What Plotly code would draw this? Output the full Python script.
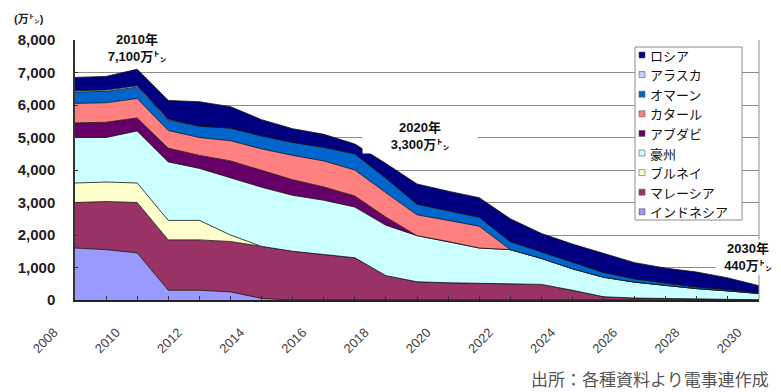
import plotly.graph_objects as go

years = list(range(2008, 2031))
names = ["インドネシア", "マレーシア", "ブルネイ", "豪州", "アブダビ", "カタール", "オマーン", "アラスカ", "ロシア"]
colors = ["#9999FF", "#993366", "#FFFFCC", "#CCFFFF", "#660066", "#FF8080", "#0066CC", "#CCCCFF", "#000080"]

indonesia = [1600, 1550, 1450, 300, 300, 250, 50, 0, 0, 0, 0, 0, 0, 0, 0, 0, 0, 0, 0, 0, 0, 0, 0]
malaysia = [1400, 1480, 1550, 1550, 1550, 1550, 1600, 1500, 1400, 1300, 750, 560, 530, 520, 500, 480, 300, 100, 60, 40, 30, 20, 10]
brunei = [600, 600, 600, 600, 600, 200, 0, 0, 0, 0, 0, 0, 0, 0, 0, 0, 0, 0, 0, 0, 0, 0, 0]
australia = [1400, 1370, 1600, 1800, 1600, 1750, 1820, 1720, 1670, 1560, 1550, 1420, 1270, 1080, 1050, 800, 660, 600, 490, 410, 320, 260, 190]
abudhabi = [450, 470, 400, 420, 400, 530, 520, 480, 410, 340, 250, 0, 0, 0, 0, 0, 0, 0, 0, 0, 0, 0, 0]
qatar = [600, 600, 600, 545, 550, 620, 660, 750, 800, 800, 750, 640, 650, 670, 0, 0, 0, 0, 0, 0, 0, 0, 0]
oman = [350, 350, 350, 315, 350, 390, 400, 400, 420, 500, 450, 330, 300, 280, 250, 200, 190, 150, 100, 70, 50, 40, 20]
alaska = [40, 40, 40, 30, 0, 0, 0, 0, 0, 0, 0, 0, 0, 0, 0, 0, 0, 0, 0, 0, 0, 0, 0]
russia = [410, 420, 510, 580, 750, 660, 500, 420, 400, 300, 450, 620, 600, 600, 700, 570, 570, 580, 500, 460, 460, 360, 220]

series = [indonesia, malaysia, brunei, australia, abudhabi, qatar, oman, alaska, russia]

y_ticks = [0, 1000, 2000, 3000, 4000, 5000, 6000, 7000, 8000]
x_ticks = list(range(2008, 2031, 2))

FONT = "Liberation Sans, Arial, Noto Sans CJK JP, sans-serif"
JFONT = "Noto Sans CJK JP, sans-serif"

fig = go.Figure()
for name, color, vals in zip(names, colors, series):
    fig.add_trace(go.Scatter(
        x=years, y=vals, name=name, mode="lines", stackgroup="one",
        line=dict(color="#111111", width=0.8), fillcolor=color,
        showlegend=False, hoverinfo="skip"))

W, H = 781, 392
L, R, T, B = 75, 22, 40, 92
pw, ph = W - L - R, H - T - B


def px(x):
    return (x - L) / pw


def py(y):
    return (H - B - y) / ph


fig.update_layout(
    width=W, height=H,
    margin=dict(l=L, r=R, t=T, b=B),
    paper_bgcolor="white", plot_bgcolor="white",
    showlegend=False,
    xaxis=dict(
        range=[2008, 2030], tickvals=x_ticks, ticktext=[str(v) for v in x_ticks],
        tickangle=-45, ticks="inside", ticklen=4, tickcolor="#333",
        showgrid=False, showline=True, linecolor="#222", linewidth=1.5,
        zeroline=False, automargin=False,
        tickfont=dict(family=FONT, size=13, color="#444"),
        ticklabelshift=-21, ticklabelstandoff=18,
        minor=dict(dtick=1, tick0=2008, ticks="inside", ticklen=4, tickcolor="#333"),
    ),
    yaxis=dict(
        range=[0, 8000], tickvals=y_ticks, tickformat=",",
        showgrid=True, gridcolor="#8c8c8c", gridwidth=1,
        showline=True, linecolor="#333", linewidth=1.5,
        ticks="inside", ticklen=3, tickcolor="#333", zeroline=False, automargin=False,
        tickfont=dict(family=FONT, size=15, color="#222", weight="bold"),
        ticklabelstandoff=15,
    ),
)

shapes = []
# right border of plot area
shapes.append(dict(type="line", xref="paper", yref="paper", x0=1, x1=1, y0=0, y1=1,
                   line=dict(color="#8c8c8c", width=1)))
# manual legend box
shapes.append(dict(type="rect", xref="paper", yref="paper",
                   x0=px(635), x1=px(742), y0=py(220), y1=py(47),
                   fillcolor="white", line=dict(color="#8c8c8c", width=1)))
annotations = []
for k, idx in enumerate(range(len(names) - 1, -1, -1)):
    cy = 55 + 19.6 * k
    shapes.append(dict(type="rect", xref="paper", yref="paper",
                       x0=px(639), x1=px(645), y0=py(cy + 3), y1=py(cy - 3),
                       fillcolor=colors[idx], line=dict(color="#555", width=0.6)))
    annotations.append(dict(xref="paper", yref="paper", x=px(648), y=py(cy),
                            xanchor="left", yanchor="middle", showarrow=False,
                            text=names[idx], font=dict(family=JFONT, size=13, color="#111")))

annotations += [
    dict(xref="paper", yref="paper", x=px(12), y=py(19), xanchor="left", yanchor="middle",
         showarrow=False, text="(万㌧)", font=dict(family=FONT, size=11, color="#222", weight="bold")),
    dict(xref="x", yref="y", x=2010, y=7750, xanchor="center", yanchor="middle", showarrow=False,
         text="2010年<br>7,100万㌧", bgcolor="white", width=88,
         font=dict(family=FONT, size=13, color="#111", weight="bold")),
    dict(xref="x", yref="y", x=2019.1, y=5050, xanchor="center", yanchor="middle", showarrow=False,
         text="2020年<br>3,300万㌧", bgcolor="white", width=112,
         font=dict(family=FONT, size=13, color="#111", weight="bold")),
    dict(xref="paper", yref="y", x=px(748), y=1320, xanchor="center", yanchor="middle", showarrow=False,
         text="2030年<br>440万㌧", bgcolor="white", width=62,
         font=dict(family=FONT, size=13, color="#111", weight="bold")),
    dict(xref="paper", yref="paper", x=px(771), y=py(378), xanchor="right", yanchor="middle",
         showarrow=False, text="出所：各種資料より電事連作成",
         font=dict(family=JFONT, size=17, color="#555")),
]

fig.update_layout(shapes=shapes, annotations=annotations)
fig.write_html("out.html")
